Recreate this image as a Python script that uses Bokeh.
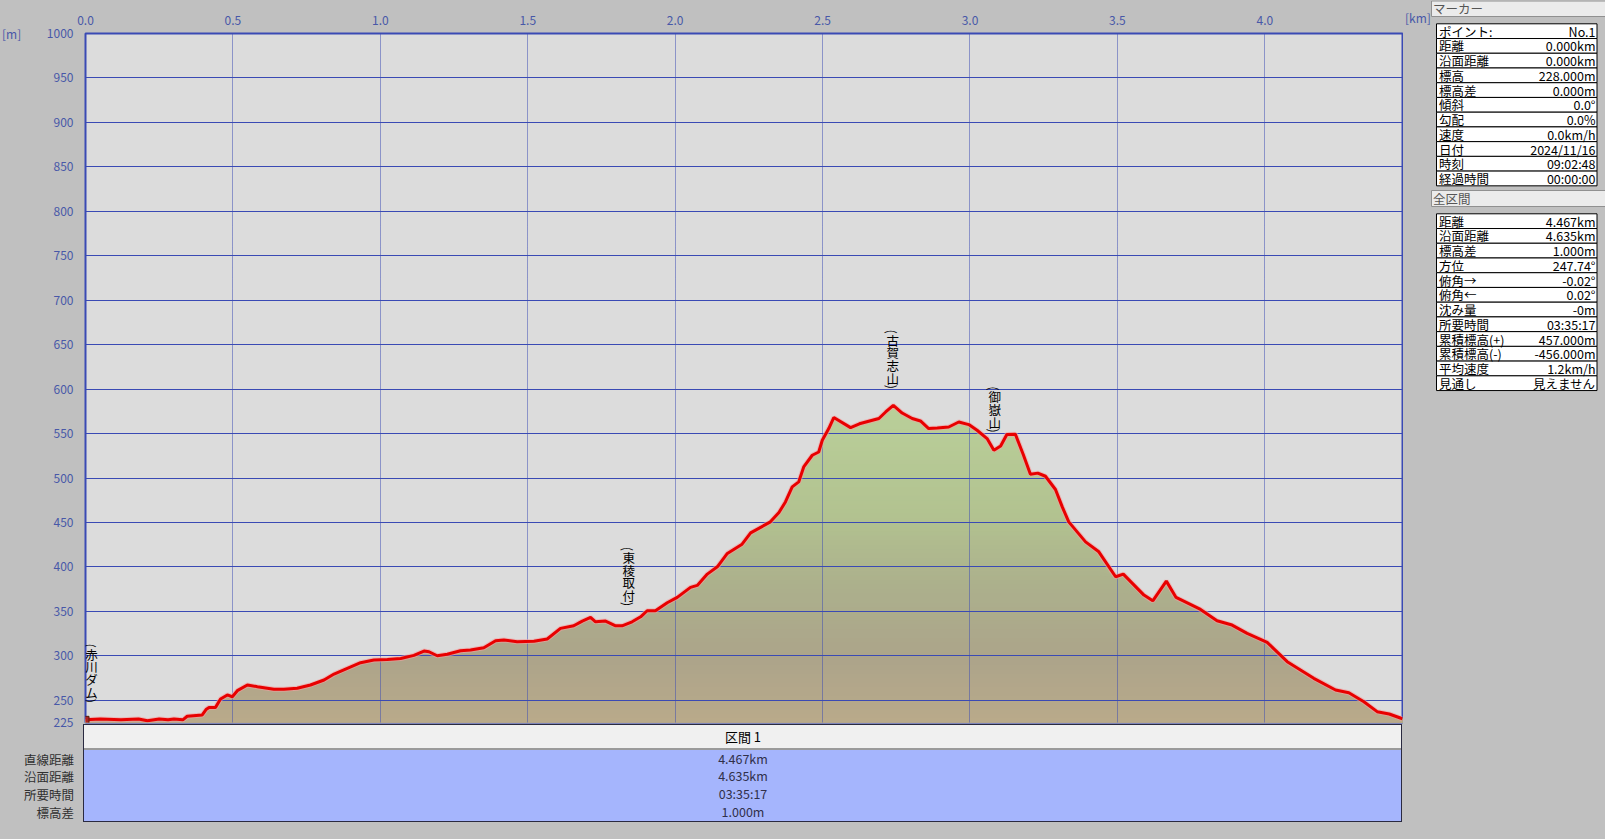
import numpy as np
from bokeh.plotting import figure
from bokeh.layouts import row, column
from bokeh.models import Range1d, FixedTicker, PrintfTickFormatter, ColumnDataSource, Div
from bokeh.core.properties import value
from bokeh.embed import file_html
from bokeh.resources import INLINE

# ---------------- data ----------------
dist_km = [0.000, 0.050, 0.120, 0.180, 0.210, 0.250, 0.280, 0.300, 0.330, 0.345,
           0.396, 0.410, 0.419, 0.441, 0.458, 0.481, 0.498, 0.515, 0.549, 0.583,
           0.639, 0.673, 0.718, 0.763, 0.809, 0.843, 0.888, 0.933, 0.978, 1.024,
           1.069, 1.114, 1.148, 1.165, 1.193, 1.227, 1.272, 1.306, 1.351, 1.391,
           1.419, 1.464, 1.521, 1.566, 1.611, 1.656, 1.685, 1.713, 1.730, 1.764,
           1.798, 1.820, 1.854, 1.883, 1.905, 1.933, 1.973, 2.007, 2.052, 2.075,
           2.109, 2.143, 2.177, 2.227, 2.256, 2.323, 2.352, 2.374, 2.397, 2.419,
           2.436, 2.465, 2.487, 2.499, 2.521, 2.538, 2.595, 2.625, 2.691, 2.714,
           2.740, 2.770, 2.804, 2.832, 2.860, 2.889, 2.928, 2.962, 2.996, 3.024,
           3.058, 3.081, 3.104, 3.125, 3.154, 3.180, 3.205, 3.230, 3.256, 3.290,
           3.313, 3.335, 3.392, 3.437, 3.494, 3.520, 3.590, 3.620, 3.666, 3.699,
           3.782, 3.838, 3.889, 3.940, 4.008, 4.076, 4.166, 4.240, 4.285, 4.336,
           4.381, 4.422, 4.462, 4.467]
elev_m = [228, 229, 228, 229, 227, 229, 228, 229, 228, 232,
          233.5, 240, 242, 242, 251.5, 256, 254, 260.8, 267.2, 265.3,
          262.4, 262.4, 263.5, 267.2, 272.8, 279.5, 286, 292.3, 295.3, 296,
          297, 300.5, 305.4, 304.6, 300.1, 301.7, 305.7, 306.5, 309.1, 317,
          317.8, 315.8, 316.3, 318.9, 330.9, 333.8, 339.1, 343.2, 338.3, 339.1,
          333.8, 333.8, 338.3, 343.9, 350.7, 350.7, 359.7, 365.7, 377, 379.2,
          391.9, 400.1, 415.2, 425.6, 438.3, 450.7, 461.2, 473.1, 490, 495.6,
          512.5, 525.6, 529.3, 542.5, 555.6, 568, 556.7, 561, 566.9, 574.3,
          581.8, 573.1, 566.9, 564.2, 555.6, 556.3, 557.4, 563, 560.1, 553.7,
          544.4, 531.2, 536, 549, 549.2, 527, 504.3, 505.5, 502, 487.1,
          467.5, 450.7, 428.2, 417, 388.9, 391.9, 368.3, 361.9, 384, 365.7,
          352.2, 339.4, 334.6, 325.3, 315.2, 293.4, 274.7, 261.6, 258.5, 248.4,
          237.2, 234.6, 229.8, 229]

place_names = ["赤川ダム", "東稜取付", "古賀志山", "御嶽山"]
place_km = [0.0, 1.843, 2.738, 3.084]

x_ticks = [0.0, 0.5, 1.0, 1.5, 2.0, 2.5, 3.0, 3.5, 4.0]
y_ticks = [225, 250, 300, 350, 400, 450, 500, 550, 600, 650, 700, 750, 800, 850, 900, 950, 1000]
x_unit = "[km]"
y_unit = "[m]"

marker_title = "マーカー"
marker_labels = ["ポイント:", "距離", "沿面距離", "標高", "標高差", "傾斜", "勾配", "速度", "日付", "時刻", "経過時間"]
marker_values = ["No.1", "0.000km", "0.000km", "228.000m", "0.000m", "0.0°", "0.0%", "0.0km/h", "2024/11/16", "09:02:48", "00:00:00"]
total_title = "全区間"
total_labels = ["距離", "沿面距離", "標高差", "方位", "俯角→", "俯角←", "沈み量", "所要時間", "累積標高(+)", "累積標高(-)", "平均速度", "見通し"]
total_values = ["4.467km", "4.635km", "1.000m", "247.74°", "-0.02°", "0.02°", "-0m", "03:35:17", "457.000m", "-456.000m", "1.2km/h", "見えません"]
section_title = "区間 1"
section_labels = ["直線距離", "沿面距離", "所要時間", "標高差"]
section_values = ["4.467km", "4.635km", "03:35:17", "1.000m"]

# ---------------- styles ----------------
BG = "#c0c0c0"
FONT = "Noto Sans CJK JP"
BLUE = "#3a4ab4"
TICK_COL = "#4858a8"

x = np.array(dist_km)
y = np.array(elev_m)

# ---------------- main chart ----------------
main = figure(width=1383, height=730, x_range=Range1d(0, dist_km[-1]), y_range=Range1d(225, 1000),
              x_axis_location="above", toolbar_location=None, tools="", output_backend="svg",
              min_border_left=65, min_border_right=1, min_border_top=33, min_border_bottom=8)
main.background_fill_color = "#dcdcdc"
main.border_fill_color = BG
main.outline_line_color = BLUE
main.outline_line_width = 2

for ax in (main.xaxis[0], main.yaxis[0]):
    ax.axis_line_color = None
    ax.major_tick_line_color = None
    ax.minor_tick_line_color = None
    ax.major_tick_out = 0
    ax.major_tick_in = 0
    ax.major_label_text_font = FONT
    ax.major_label_text_font_size = "12px"
    ax.major_label_text_color = TICK_COL
main.xaxis.ticker = FixedTicker(ticks=x_ticks)
main.yaxis.ticker = FixedTicker(ticks=y_ticks)
main.xaxis.formatter = PrintfTickFormatter(format="%.1f")
main.yaxis.formatter = PrintfTickFormatter(format="%d")
main.xaxis.major_label_standoff = 9
main.yaxis.major_label_standoff = 12
main.xgrid.ticker = FixedTicker(ticks=x_ticks)
main.ygrid.ticker = FixedTicker(ticks=y_ticks)
main.xgrid.grid_line_color = BLUE
main.xgrid.grid_line_dash = "1 1"
main.ygrid.grid_line_color = BLUE
main.ygrid.grid_line_width = 1

# gradient fill under the profile (layers from top colour down)
stops_m = [225, 300, 380, 460, 590]
stops_rgb = np.array([[186, 170, 138], [172, 164, 138], [172, 176, 140], [178, 194, 144], [186, 208, 154]], dtype=float)
for t in np.arange(590, 224, -5):
    c = [int(round(np.interp(t, stops_m, stops_rgb[:, k]))) for k in range(3)]
    r = main.varea(x=x, y1=np.full_like(y, 225.0), y2=np.minimum(y, t),
                   fill_color="#%02x%02x%02x" % tuple(c), fill_alpha=1.0)
    r.level = "image"

main.line(x, y, line_color="#f4a0a0", line_width=5, line_alpha=0.6)
main.line(x, y, line_color="#e80000", line_width=3)

# start marker (hiker)
main.scatter([dist_km[0]], [elev_m[0]], marker="square", size=7, fill_color="#b02020", line_color="#502010")

# vertical place labels
px, py, ptxt, poff, pxoff, pang = [], [], [], [], [], []
elev_at = np.interp(place_km, x, y)
for name, km, e in zip(place_names, place_km, elev_at):
    n = len(name)
    base = 17.0
    step = 12.8
    xo = 6.0 if km <= 0 else 0.0
    px.append(km); py.append(e); ptxt.append(")"); poff.append(-(base + 2)); pxoff.append(xo); pang.append(-np.pi / 2)
    for i, ch in enumerate(name):
        px.append(km); py.append(e); ptxt.append(ch); pxoff.append(xo)
        poff.append(-(base + 4 + (n - 1 - i) * step + step / 2)); pang.append(0.0)
    px.append(km); py.append(e); ptxt.append("("); poff.append(-(base + 4 + n * step + 2)); pxoff.append(xo); pang.append(-np.pi / 2)
src = ColumnDataSource(dict(x=px, y=py, t=ptxt, off=poff, xoff=pxoff, ang=pang))
main.text(x="x", y="y", text="t", y_offset="off", x_offset="xoff", angle="ang", source=src,
          text_font=value(FONT), text_font_size="12.5px", text_color="#000000",
          text_align="center", text_baseline="middle")

# ---------------- left unit label ----------------
m_div = Div(width=20, height=730, margin=(0, 0, 0, 0),
            styles={"background-color": BG},
            text=('<div style="position:relative;width:21px;height:730px;background:%s;">'
                  '<div style="position:absolute;left:2px;top:25px;font-family:\'%s\';font-size:12px;'
                  'color:%s;white-space:nowrap;">%s</div></div>') % (BG, FONT, TICK_COL, y_unit))

# ---------------- bottom section table ----------------
parts = ['<div style="position:relative;width:1403px;height:115px;font-family:\'%s\';">' % FONT,
         '<div style="position:absolute;left:0;top:6px;width:1403px;height:109px;background:%s;"></div>' % BG,
         '<div style="position:absolute;left:84px;top:1px;width:1318px;height:24px;background:#f0f0f0;"></div>',
         '<div style="position:absolute;left:84px;top:24px;width:1318px;height:74px;background:#a5b5fd;'
         'border-top:2px solid #9a9a9a;box-sizing:border-box;"></div>',
         '<div style="position:absolute;left:83px;top:0px;width:1319px;height:98px;border:1.5px solid #2a2a40;'
         'box-sizing:border-box;"></div>',
         '<div style="position:absolute;left:84px;top:4px;width:1318px;text-align:center;font-size:13px;'
         'line-height:18px;color:#000;">%s</div>' % section_title]
for i, (lab, val) in enumerate(zip(section_labels, section_values)):
    yc = 34.5 + 17.9 * i
    parts.append('<div style="position:absolute;left:84px;top:%.1fpx;width:1318px;text-align:center;'
                 'font-size:12.5px;line-height:16px;color:#30304a;">%s</div>' % (yc - 8, val))
    parts.append('<div style="position:absolute;left:0px;top:%.1fpx;width:74px;text-align:right;'
                 'font-size:12.5px;line-height:16px;color:#303030;white-space:nowrap;">%s</div>' % (yc - 7, lab))
parts.append('</div>')
tbl_div = Div(width=1403, height=115, margin=(-6, 0, 0, 0), text="".join(parts))

# ---------------- side panel ----------------
side = figure(width=202, height=839, x_range=Range1d(0, 202), y_range=Range1d(839, 0),
              x_axis_location=None, y_axis_location=None, toolbar_location=None, tools="",
              output_backend="svg", min_border=0)
side.background_fill_color = BG
side.border_fill_color = BG
side.outline_line_color = None
side.grid.visible = False

side.text(x=[1.5], y=[17], text=[x_unit], text_font=value(FONT), text_font_size="12px",
          text_color=TICK_COL, text_align="left", text_baseline="middle")


def panel(title, labels, values, head_top, head_bot, tab_top, row_h):
    side.quad(left=[28], right=[210], top=[head_top], bottom=[head_bot], fill_color="#ebebeb",
              line_color="#909090", line_width=1)
    side.text(x=[29.5], y=[(head_top + head_bot) / 2], text=[title], text_font=value(FONT),
              text_font_size="12.5px", text_color="#555555", text_align="left", text_baseline="middle")
    n = len(labels)
    tops = [tab_top + i * row_h for i in range(n)]
    side.quad(left=[33] * n, right=[193.5] * n, top=tops, bottom=[t + row_h for t in tops],
              fill_color="#ffffff", line_color="#000000", line_width=1)
    mids = [t + row_h / 2 for t in tops]
    side.text(x=[35.5] * n, y=mids, text=labels, text_font=value(FONT), text_font_size="12.5px",
              text_color="#000000", text_align="left", text_baseline="middle")
    side.text(x=[192] * n, y=mids, text=values, text_font=value(FONT), text_font_size="12.5px",
              text_color="#000000", text_align="right", text_baseline="middle")


panel(marker_title, marker_labels, marker_values, 0.5, 16, 23.3, 14.73)
panel(total_title, total_labels, total_values, 190, 206, 213.3, 14.73)

top_row = row(m_div, main, styles={"background-color": BG})
left_col = column(top_row, tbl_div, styles={"background-color": BG})
layout = row(left_col, side, styles={"background-color": BG})
open("out.html", "w").write(file_html(layout, INLINE))
